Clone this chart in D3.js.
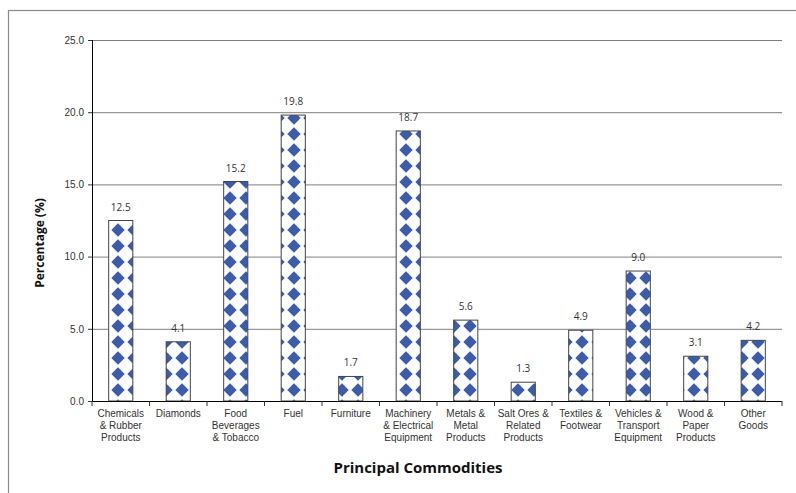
<!DOCTYPE html>
<html lang="en">
<head>
<meta charset="UTF-8">
<script src="https://d3js.org/d3.v7.min.js"></script>
<style>
body { margin: 0; background: #fff; }
.axis text { font: 10px "Liberation Sans", Arial, sans-serif; fill: #333; }
.cat { font: 10px "Liberation Sans", Arial, sans-serif; fill: #333; }
.val { font: 10px "Open Sans", sans-serif; fill: #333; }
.title { font: bold 15px "Open Sans", sans-serif; fill: #111; }
.ytitle { font: bold 12px "Open Sans", sans-serif; fill: #111; }
.grid line { stroke: #7f7f7f; }
</style>
</head>
<body>
<svg class="chart"></svg>
<script>
const categories = [
  ["Chemicals", "& Rubber", "Products"],
  ["Diamonds"],
  ["Food", "Beverages", "& Tobacco"],
  ["Fuel"],
  ["Furniture"],
  ["Machinery", "& Electrical", "Equipment"],
  ["Metals &", "Metal", "Products"],
  ["Salt Ores &", "Related", "Products"],
  ["Textiles &", "Footwear"],
  ["Vehicles &", "Transport", "Equipment"],
  ["Wood &", "Paper", "Products"],
  ["Other", "Goods"]
];
const values = [12.5, 4.1, 15.2, 19.8, 1.7, 18.7, 5.6, 1.3, 4.9, 9.0, 3.1, 4.2];
const yTicks = [0, 5, 10, 15, 20, 25];

const W = 796, H = 493;
const margin = { top: 40, right: 14, bottom: 92, left: 92 },
    width = W - margin.left - margin.right,
    height = H - margin.top - margin.bottom;

const svg = d3.select('.chart').attr('width', W).attr('height', H);

// outer chart frame (top and left edges show)
svg.append('rect')
    .attr('x', 8.5).attr('y', 10.5)
    .attr('width', W).attr('height', H)
    .attr('fill', 'none').attr('stroke', '#8a8a8a').attr('stroke-width', 1.2);

const chart = svg.append('g')
    .attr('transform', 'translate(' + margin.left + ',' + margin.top + ')');

// diamond pattern fill
const pitch = 16;
const pat = svg.append('defs').append('pattern')
    .attr('id', 'diamonds')
    .attr('patternUnits', 'userSpaceOnUse')
    .attr('x', 18).attr('y', 342)
    .attr('width', pitch).attr('height', pitch);
pat.append('rect').attr('width', pitch).attr('height', pitch).attr('fill', '#fff');
pat.append('path')
    .attr('d', 'M8,1.3 L14.7,8 L8,14.7 L1.3,8 Z')
    .attr('fill', '#3c5ca9');

const names = categories.map(c => c.join(' '));
const x = d3.scaleBand().domain(names).range([0, width])
    .paddingInner(0.58).paddingOuter(0.29);
const y = d3.scaleLinear().domain([0, 25]).range([height, 0]);

// gridlines
chart.append('g')
    .attr('class', 'grid')
    .call(d3.axisLeft(y).tickValues(yTicks).tickSize(-width).tickFormat(''))
    .call(g => g.select('.domain').remove());

// bars
chart.selectAll('.bar')
    .data(values)
    .enter().append('rect')
    .attr('class', 'bar')
    .attr('x', (d, i) => x(names[i]))
    .attr('y', d => y(d))
    .attr('width', x.bandwidth())
    .attr('height', d => height - y(d))
    .attr('fill', 'url(#diamonds)')
    .attr('stroke', '#444')
    .attr('stroke-width', 1);

// value labels
chart.selectAll('.val')
    .data(values)
    .enter().append('text')
    .attr('class', 'val')
    .attr('x', (d, i) => x(names[i]) + x.bandwidth() / 2)
    .attr('y', d => y(d) - 10)
    .attr('text-anchor', 'middle')
    .text(d => d.toFixed(1));

// y axis
chart.append('g')
    .attr('class', 'axis')
    .call(d3.axisLeft(y).tickValues(yTicks).tickSize(4).tickPadding(4).tickFormat(d3.format('.1f')))
    .call(g => g.select('.domain').attr('stroke', '#000').attr('d', 'M0.5,' + height + 'V0'))
    .call(g => g.selectAll('.tick line').attr('stroke', '#333'));

// x axis with ticks on the band boundaries
const gap = (x.step() - x.bandwidth()) / 2;
const xa = chart.append('g').attr('transform', 'translate(0,' + height + ')');
xa.append('line').attr('x1', 0).attr('x2', width).attr('y1', 0.5).attr('y2', 0.5)
    .attr('stroke', '#000').attr('stroke-width', 1.2);
xa.selectAll('.xt')
    .data(names.concat(['end']))
    .enter().append('line')
    .attr('x1', (d, i) => i < names.length ? x(d) - gap : x(names[names.length - 1]) + x.bandwidth() + gap)
    .attr('x2', (d, i) => i < names.length ? x(d) - gap : x(names[names.length - 1]) + x.bandwidth() + gap)
    .attr('y1', 0).attr('y2', 5)
    .attr('stroke', '#333');

// category labels
const cl = xa.selectAll('.cat')
    .data(categories)
    .enter().append('text')
    .attr('class', 'cat')
    .attr('text-anchor', 'middle')
    .attr('transform', (d, i) => 'translate(' + (x(names[i]) + x.bandwidth() / 2) + ',16)');
cl.selectAll('tspan')
    .data(d => d)
    .enter().append('tspan')
    .attr('x', 0)
    .attr('y', (d, i) => i * 11.8)
    .text(d => d);

// axis titles
svg.append('text')
    .attr('class', 'title')
    .attr('x', 418).attr('y', 473)
    .attr('text-anchor', 'middle')
    .text('Principal Commodities');
svg.append('text')
    .attr('class', 'ytitle')
    .attr('transform', 'translate(44,243) rotate(-90)')
    .attr('text-anchor', 'middle')
    .text('Percentage (%)');
</script>
</body>
</html>
